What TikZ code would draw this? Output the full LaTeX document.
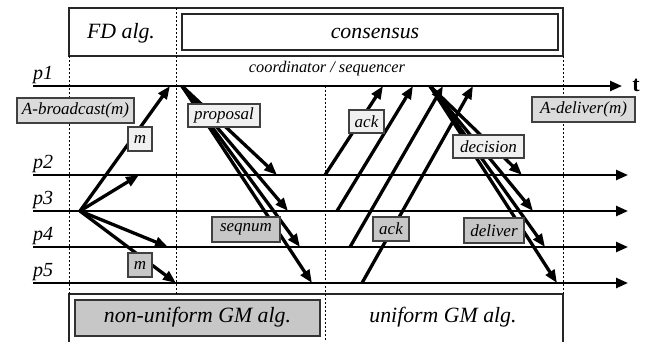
\documentclass[tikz,border=0pt]{standalone}
\usepackage{fontspec}
\setmainfont{Liberation Serif}[ItalicFont={Liberation Serif Italic},BoldFont={Liberation Serif Bold}]
\usetikzlibrary{arrows.meta}
\begin{document}
\begin{tikzpicture}[x=1pt,y=-1pt,
  tl/.style={line width=2.4pt},
  tlarrow/.style={tl,-{Triangle[length=12pt,width=10pt]}},
  msg/.style={line width=3.3pt,-{Triangle[length=13pt,width=10pt]}},
  frame/.style={draw=black!85,line width=1.2pt},
  vdash/.style={dash pattern=on 2pt off 2pt, line width=0.9pt},
  lbl/.style={font=\fontsize{21.8}{23}\selectfont\itshape,inner sep=0pt},
  plbl/.style={font=\fontsize{20}{22}\selectfont\itshape,inner sep=0pt,anchor=base west},
  box/.style={draw=black!75,line width=1.1pt,font=\fontsize{17}{19}\selectfont\itshape,inner sep=0pt,minimum height=23pt},
  lightbox/.style={box,fill=black!6},
  midbox/.style={box,fill=black!14},
  darkbox/.style={box,fill=black!22},
]
\useasboundingbox (0,0) rectangle (651,341);

% frames
\draw[frame] (69,8) rectangle (563,56);
\node[frame,draw,minimum width=376pt,minimum height=36pt,inner sep=0pt] (cons) at (370,32) {};
\node[lbl] (fd) at (121,33) {FD alg.};
\node[lbl] (constext) at (375,33) {consensus};
\node[font=\fontsize{16.3}{18}\selectfont\itshape,inner sep=0pt] (coord) at (327,69) {coordinator / sequencer};
\draw[frame] (69,345) -- (69,294) -- (563,294) -- (563,345);
\node[draw=black!80,line width=1.1pt,fill=black!22,minimum width=245pt,minimum height=36pt,inner sep=0pt] (nugm) at (197.5,318) {};
\node[lbl] (nugmt) at (197.5,317) {non-uniform GM alg.};
\node[lbl] (ugm) at (443,317) {uniform GM alg.};

% dashed separators
\coordinate (d1a) at (69,56);  \coordinate (d1b) at (69,294);
\coordinate (d2a) at (176,8);  \coordinate (d2b) at (176,294);
\coordinate (d3a) at (325,86); \coordinate (d3b) at (325,341);
\coordinate (d4a) at (563,56); \coordinate (d4b) at (563,294);
\draw[vdash] (d1a) -- (d1b);
\draw[vdash] (d2a) -- (d2b);
\draw[vdash] (d3a) -- (d3b);
\draw[vdash] (d4a) -- (d4b);

% timelines
\coordinate (p1s) at (33,86);  \coordinate (p1e) at (622,86);
\coordinate (p2s) at (33,175); \coordinate (p2e) at (628,175);
\coordinate (p3s) at (33,211); \coordinate (p3e) at (628,211);
\coordinate (p4s) at (33,247); \coordinate (p4e) at (628,247);
\coordinate (p5s) at (33,283); \coordinate (p5e) at (628,283);
\draw[tlarrow] (p1s) -- (p1e);
\draw[tlarrow] (p2s) -- (p2e);
\draw[tlarrow] (p3s) -- (p3e);
\draw[tlarrow] (p4s) -- (p4e);
\draw[tlarrow] (p5s) -- (p5e);
\node[font=\fontsize{22}{24}\selectfont\bfseries,inner sep=0pt] (t) at (636,85) {t};
\node[plbl] (l1) at (33,79) {p1};
\node[plbl] (l2) at (33,168) {p2};
\node[plbl] (l3) at (33,204) {p3};
\node[plbl] (l4) at (33,240) {p4};
\node[plbl] (l5) at (33,276) {p5};

% FD phase
\coordinate (fds) at (80,211);
\coordinate (fd1) at (170,86);
\coordinate (fd2) at (139,175);
\coordinate (fd4) at (168,247);
\coordinate (fd5) at (176,283);
\draw[msg] (fds) -- (fd1);
\draw[msg] (fds) -- (fd2);
\draw[msg] (fds) -- (fd4);
\draw[msg] (fds) -- (fd5);

% proposal
\coordinate (prs) at (182,86);
\coordinate (pr2) at (277,175);
\coordinate (pr3) at (288,211);
\coordinate (pr4) at (300,247);
\coordinate (pr5) at (312,283);
\draw[msg] (prs) -- (pr2);
\draw[msg] (prs) -- (pr3);
\draw[msg] (prs) -- (pr4);
\draw[msg] (prs) -- (pr5);

% acks
\coordinate (a2s) at (325,175); \coordinate (a2e) at (383,86);
\coordinate (a3s) at (337,211); \coordinate (a3e) at (413,86);
\coordinate (a4s) at (350,247); \coordinate (a4e) at (443,86);
\coordinate (a5s) at (362,283); \coordinate (a5e) at (473,86);
\draw[msg] (a2s) -- (a2e);
\draw[msg] (a3s) -- (a3e);
\draw[msg] (a4s) -- (a4e);
\draw[msg] (a5s) -- (a5e);

% decision
\coordinate (des) at (430,86);
\coordinate (de2) at (522,175);
\coordinate (de3) at (533,211);
\coordinate (de4) at (545,247);
\coordinate (de5) at (557,283);
\draw[msg] (des) -- (de2);
\draw[msg] (des) -- (de3);
\draw[msg] (des) -- (de4);
\draw[msg] (des) -- (de5);

% labels
\node[midbox,minimum width=117pt,minimum height=25pt] (abc) at (75.5,110.5) {A-broadcast(m)};
\node[lightbox,minimum width=24pt,minimum height=24pt] (m1) at (140,139) {m};
\node[lightbox,minimum width=72pt] (prop) at (224,115.5) {proposal};
\node[lightbox,minimum width=35pt] (ack1) at (366.5,121.5) {ack};
\node[lightbox,minimum width=71pt] (dec) at (488.5,146.5) {decision};
\node[midbox,minimum width=103pt,minimum height=25pt] (adel) at (583.5,109.5) {A-deliver(m)};
\node[darkbox,minimum width=68pt,minimum height=25pt] (seq) at (246,229.5) {seqnum};
\node[darkbox,minimum width=24pt,minimum height=24pt] (m2) at (140,265) {m};
\node[darkbox,minimum width=36pt,minimum height=24pt] (ack2) at (391,229) {ack};
\node[darkbox,minimum width=60pt,minimum height=25pt] (del) at (494,230.5) {deliver};
\end{tikzpicture}
\end{document}
